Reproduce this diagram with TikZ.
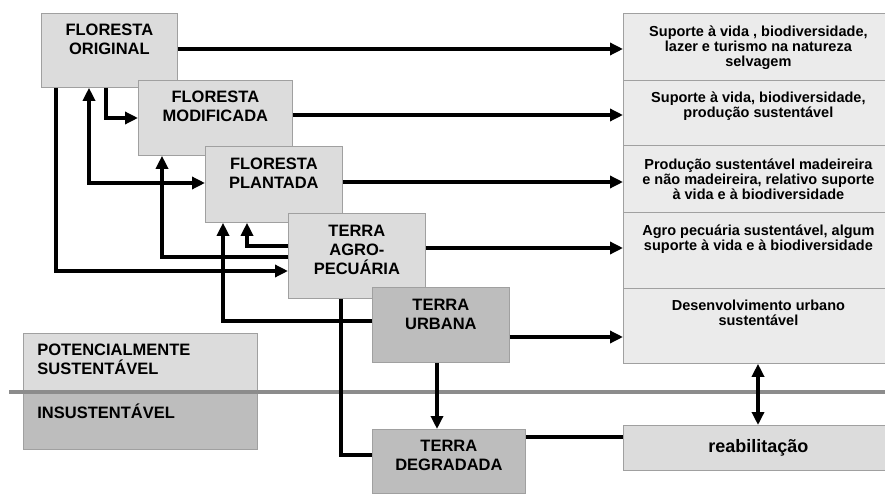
\documentclass[tikz,border=0pt]{standalone}
\usepackage{fontspec}
\setmainfont{Liberation Sans}
\usetikzlibrary{arrows.meta}
\definecolor{lgray}{HTML}{DCDCDC}
\definecolor{vlgray}{HTML}{EBEBEB}
\definecolor{dgray}{HTML}{BDBDBD}
\definecolor{edgegray}{HTML}{A0A0A0}
\definecolor{sepgray}{HTML}{8C8C8C}
% centred text at top of a box: width, height, top gap, text
\newcommand{\bxt}[4]{\parbox[c][#2pt][t]{#1pt}{\centering\vspace*{#3pt}#4\par}}
% left aligned text: width, height, top gap, indent, text
\newcommand{\bxl}[5]{\parbox[c][#2pt][t]{#1pt}{\raggedright\leftskip=#4pt\vspace*{#3pt}#5\par}}
\begin{document}
\begin{tikzpicture}[x=1pt,y=-1pt,
  box/.style={draw=edgegray, line width=0.8pt, inner sep=0pt, anchor=north west,
              font=\bfseries\fontsize{16.5}{19}\selectfont},
  lbox/.style={box, fill=lgray},
  dbox/.style={box, fill=dgray},
  rbox/.style={box, fill=vlgray, font=\bfseries\fontsize{14.5}{15}\selectfont},
  arr/.style={line width=4pt, -{Triangle[length=13pt,width=12pt]}},
  dbl/.style={line width=4pt, {Triangle[length=13pt,width=12pt]}-{Triangle[length=13pt,width=12pt]}},
  ln/.style={line width=4pt},
]
\useasboundingbox (0,0) rectangle (885,494);

% legend boxes
\node[box, fill=lgray, font=\bfseries\fontsize{16.5}{19}\selectfont] (pot) at (23,333)
  {\bxl{234}{59}{11}{14}{POTENCIALMENTE\\SUSTENTÁVEL}};
\node[box, fill=dgray, font=\bfseries\fontsize{16.5}{19}\selectfont] (ins) at (23,392)
  {\bxl{234}{57}{11}{14}{INSUSTENTÁVEL}};

% separator
\coordinate (sepL) at (9,392);
\coordinate (sepR) at (885,392);
\draw[line width=4pt, sepgray] (sepL) -- (sepR);

% land-use boxes
\node[lbox] (fo) at (41,13)  {\bxt{136}{74}{11}{FLORESTA\\ORIGINAL}};
\node[lbox] (fm) at (138,80) {\bxt{154}{75}{11}{FLORESTA\\MODIFICADA}};
\node[lbox] (fp) at (205,146) {\bxt{137}{76}{12}{FLORESTA\\PLANTADA}};
\node[lbox] (ta) at (288,213) {\bxt{137}{85}{12}{TERRA\\AGRO-\\PECUÁRIA}};
\node[dbox] (tu) at (372,287) {\bxt{137}{75}{12}{TERRA\\URBANA}};
\node[dbox] (td) at (372,429) {\bxt{153}{64}{11}{TERRA\\DEGRADADA}};

% outcome boxes
\node[rbox] (r1) at (623,13)  {\bxt{270}{67}{12}{Suporte à vida , biodiversidade,\\lazer e turismo na natureza\\selvagem}};
\node[rbox] (r2) at (623,80)  {\bxt{270}{65}{11}{Suporte à vida, biodiversidade,\\produção sustentável}};
\node[rbox] (r3) at (623,145) {\bxt{270}{67}{13}{Produção sustentável madeireira\\e não madeireira, relativo suporte\\à vida e à biodiversidade}};
\node[rbox] (r4) at (623,212) {\bxt{270}{76}{12}{Agro pecuária sustentável, algum\\suporte à vida e à biodiversidade}};
\node[rbox] (r5) at (623,288) {\bxt{270}{75}{12}{Desenvolvimento urbano\\sustentável}};
\node[rbox, fill=lgray, font=\bfseries\fontsize{18}{20}\selectfont] (reab) at (623,425)
  {\parbox[c][45pt][c]{270pt}{\centering reabilitação}};

% arrows to the outcomes
\draw[arr] (fo.east |- 0,49)  -- (r1.west |- 0,49);
\draw[arr] (fm.east |- 0,115) -- (r2.west |- 0,115);
\draw[arr] (fp.east |- 0,182) -- (r3.west |- 0,182);
\draw[arr] (ta.east |- 0,248) -- (r4.west |- 0,248);
\draw[arr] (tu.east |- 0,337) -- (r5.west |- 0,337);
\draw[ln]  (td.east |- 0,437) -- (reab.west |- 0,437);
\draw[dbl] (r5.south -| 758,0) -- (reab.north -| 758,0);

% transitions
\draw[arr] (fo.south -| 106,0) |- (fm.west |- 0,118);
\draw[arr] (fo.south -| 56,0)  |- (ta.west |- 0,271);
\draw[dbl] (fo.south -| 89,0)  |- (fp.west |- 0,183);
\draw[arr] (ta.west |- 0,257)  -| (fm.south -| 162,0);
\draw[arr] (ta.west |- 0,246)  -| (fp.south -| 247,0);
\draw[arr] (tu.west |- 0,321)  -| (fp.south -| 223,0);
\draw[arr] (tu.south -| 437,0) -- (td.north -| 437,0);
\draw[ln]  (ta.south -| 341,0) |- (td.west |- 0,455);
\end{tikzpicture}
\end{document}
